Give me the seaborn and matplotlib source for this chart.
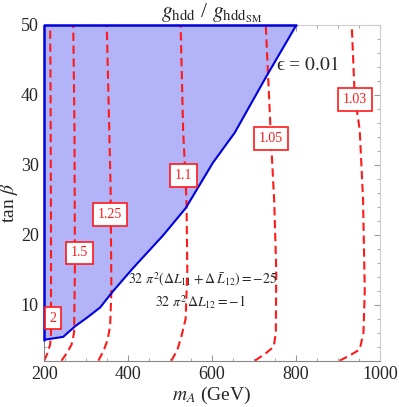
import matplotlib
matplotlib.use("Agg")
import matplotlib.pyplot as plt
import seaborn as sns
from matplotlib.ticker import MultipleLocator

# boundary of epsilon = 0.01 region (mA, tan beta)
bound_mA = [200, 245, 273, 303, 333, 362, 411, 483, 537, 602, 654, 729, 801]
bound_tb = [5.0, 5.4, 6.9, 8.2, 9.6, 11.8, 15.2, 19.9, 23.8, 30.3, 34.6, 42.6, 50.0]

# g_hdd / g_hdd_SM contours
contours = {
    "2":    ([200, 207, 214, 216, 216, 215, 214], [2, 3, 4.3, 6, 20, 40, 50]),
    "1.5":  ([241, 255, 265, 271, 273, 272, 269], [2, 3.2, 4.3, 6, 15, 35, 50]),
    "1.25": ([329, 342, 351, 357, 360, 358, 349], [2, 3.5, 5, 7, 12, 27, 50]),
    "1.1":  ([503, 517, 527, 537, 541, 539, 531, 525], [2, 3.5, 5.5, 8, 15, 25, 35, 50]),
    "1.05": ([702, 727, 747, 752, 753, 748, 741, 728], [2, 3, 4, 6, 15, 25, 33, 50]),
    "1.03": ([904, 930, 952, 961, 964, 960, 952, 940, 933], [2, 2.8, 3.6, 6, 12, 25, 35, 40, 50]),
}
label_pos = {
    "2": (221, 8.1), "1.5": (283, 17.4), "1.25": (356, 22.9),
    "1.1": (531, 28.5), "1.05": (741, 33.8), "1.03": (940, 39.3),
}

sns.set_style("ticks")
plt.rcParams["font.family"] = ["Liberation Serif", "DejaVu Serif"]
plt.rcParams["mathtext.fontset"] = "stix"

fig = plt.figure(figsize=(3.99, 4.07), dpi=100)
ax = fig.add_axes([0.111, 0.1138, 0.841, 0.8248])

# shaded region
ax.fill(bound_mA + [200], bound_tb + [50], color="#b3b3f7", lw=0, zorder=1)
ax.plot(bound_mA, bound_tb, color="#0000dd", lw=1.5, zorder=3)
ax.plot([200, 200, 801], [5, 50, 50], color="#0000dd", lw=1.8, zorder=3, clip_on=False)

for lab, (xs, ys) in contours.items():
    sns.lineplot(x=xs, y=ys, sort=False, estimator=None, ax=ax, color="#ff1a1a",
                 lw=1.5, dashes=False, zorder=2).lines[-1].set_dashes([4, 2.2])
    lx, ly = label_pos[lab]
    ax.text(lx, ly, lab, color="#ff1a1a", fontsize=10, ha="center", va="center", zorder=4,
            bbox=dict(boxstyle="square,pad=0.35", fc="white", ec="#ff1a1a", lw=1.2))

ax.text(828, 44.3, "\u03f5 = $\\mathit{0.01}$", fontsize=14, ha="center", va="center")
ax.text(578, 13.6, r"$\mathit{32}\ \pi^2\left(\Delta L_{11}+\Delta\,\bar{L}_{12}\right)=-\mathit{25}$",
        fontsize=10, ha="center", va="center", zorder=4)
ax.text(571, 10.3, r"$\mathit{32}\ \pi^2\,\Delta L_{12}=-\mathit{1}$",
        fontsize=10, ha="center", va="center", zorder=4)

ax.set_xlim(200, 1000)
ax.set_ylim(2, 50)
ax.xaxis.set_major_locator(MultipleLocator(200))
ax.xaxis.set_minor_locator(MultipleLocator(50))
ax.yaxis.set_major_locator(MultipleLocator(10))
ax.yaxis.set_minor_locator(MultipleLocator(2))
ax.tick_params(which="both", direction="in", top=True, right=True, color="#999999",
               labelsize=13, labeltop=False, labelright=False)
ax.tick_params(which="major", length=4, pad=4)
ax.tick_params(which="minor", length=2)
for side in ["left", "bottom"]:
    ax.spines[side].set_color("#888888")
for side in ["top", "right"]:
    ax.spines[side].set_color("#cccccc")

ax.set_xlabel(r"$m_A$ (GeV)", fontsize=14, labelpad=1)
ax.set_ylabel(r"tan $\beta$", fontsize=14)
ax.yaxis.set_label_coords(-0.072, 0.47)
ax.set_title(r"$g_{\rm hdd}$ / $g_{\rm hdd_{SM}}$", fontsize=15.5, pad=4)

fig.savefig("out.png", dpi=100)
